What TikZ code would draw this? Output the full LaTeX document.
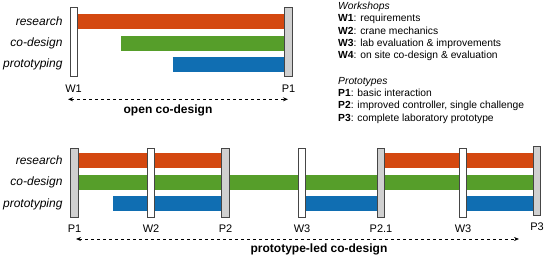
\documentclass[tikz,border=0pt]{standalone}
\usepackage{fontspec}
\setmainfont{Liberation Sans}
\usepackage{tikz}
\usetikzlibrary{arrows.meta,backgrounds}
\definecolor{resred}{RGB}{212,72,16}
\definecolor{cogreen}{RGB}{86,158,42}
\definecolor{protoblue}{RGB}{16,110,178}
\definecolor{protogray}{RGB}{208,208,208}
\definecolor{edgegray}{RGB}{70,70,70}
\tikzset{
  mile/.style={draw=edgegray,line width=0.8pt,fill=white,minimum width=7.5pt,
               minimum height=69pt,inner sep=0pt},
  wshop/.style={mile},
  proto/.style={mile,fill=protogray},
  bar/.style={line width=15pt},
  resbar/.style={bar,resred},
  cobar/.style={bar,cogreen},
  protobar/.style={bar,protoblue},
  rowlab/.style={anchor=east,font=\fontsize{12}{14}\selectfont\itshape},
  milab/.style={font=\fontsize{11}{13}\selectfont},
  span/.style={{Stealth[length=5pt,width=4pt]}-{Stealth[length=5pt,width=4pt]},dashed,line width=0.8pt},
  spanlab/.style={font=\fontsize{12}{14}\selectfont\bfseries},
  legend/.style={anchor=north west,align=left,inner sep=0pt,
                 font=\fontsize{10.3}{12.3}\selectfont},
}

\begin{document}
\begin{tikzpicture}[x=1pt,y=1pt]
  \path[use as bounding box] (0,0) rectangle (550,259);

  % open co-design
  \node[rowlab] (lres1) at (66,237.5) {research};
  \node[rowlab] (lco1) at (66,215.8) {co-design};
  \node[rowlab] (lpro1) at (66,194.2) {prototyping};
  \node[wshop] (w1) at (73.75,217.5) {};
  \node[proto] (p1) at (288.25,217.5) {};
  \node[milab] (lw1) at (73.5,170) {W1};
  \node[milab] (lp1) at (288.5,170) {P1};
  \coordinate (costart1) at (121,215.8);
  \coordinate (prstart1) at (172.7,194.2);
  \begin{pgfonlayer}{background}
    \draw[resbar] (lres1 -| w1.east) -- (lres1 -| p1.west);
    \draw[cobar] (costart1) -- (lco1 -| p1.west);
    \draw[protobar] (prstart1) -- (lpro1 -| p1.west);
  \end{pgfonlayer}
  \coordinate (os1) at (68,159.7);
  \coordinate (oe1) at (288,159.7);
  \draw[span] (os1) -- (oe1);
  \node[spanlab] (open) at (168,149) {open co-design};

  % prototype-led co-design
  \node[rowlab] (lres2) at (66,98.5) {research};
  \node[rowlab] (lco2) at (66,76.5) {co-design};
  \node[rowlab] (lpro2) at (66,55) {prototyping};
  \node[proto] (q1) at (74.25,76) {};
  \node[wshop] (w2) at (150.75,76) {};
  \node[proto] (q2) at (225.25,76) {};
  \node[wshop] (w3a) at (301.75,76) {};
  \node[proto] (q21) at (380.75,76) {};
  \node[wshop] (w3b) at (462.75,76) {};
  \node[proto] (q3) at (536.75,78.5) {};
  \node[milab] (lq1) at (74.5,30) {P1};
  \node[milab] (lw2) at (151,30) {W2};
  \node[milab] (lq2) at (225.5,30) {P2};
  \node[milab] (lw3a) at (302,30) {W3};
  \node[milab] (lq21) at (381,30) {P2.1};
  \node[milab] (lw3b) at (463,30) {W3};
  \node[milab] (lq3) at (537,32.3) {P3};
  \coordinate (prstart2) at (113,55);
  \begin{pgfonlayer}{background}
    \draw[resbar] (lres2 -| q1.east) -- (lres2 -| q2.west);
    \draw[resbar] (lres2 -| q21.east) -- (lres2 -| q3.west);
    \draw[cobar] (lco2 -| q1.east) -- (lco2 -| q3.west);
    \draw[protobar] (prstart2) -- (lpro2 -| q2.west);
    \draw[protobar] (lpro2 -| w3a.east) -- (lpro2 -| q21.west);
    \draw[protobar] (lpro2 -| w3b.east) -- (lpro2 -| q3.west);
  \end{pgfonlayer}
  \coordinate (os2) at (76,20);
  \coordinate (oe2) at (519,20);
  \draw[span] (os2) -- (oe2);
  \node[spanlab] (led) at (319,10) {prototype-led co-design};

  % legend
  \node[legend] (legw) at (338,257)
    {\textit{Workshops}\\
     \textbf{W1}: requirements\\
     \textbf{W2}: crane mechanics\\
     \textbf{W3}: lab evaluation \& improvements\\
     \textbf{W4}: on site co-design \& evaluation};
  \node[legend] (legp) at (338,182)
    {\textit{Prototypes}\\
     \textbf{P1}: basic interaction\\
     \textbf{P2}: improved controller, single challenge\\
     \textbf{P3}: complete laboratory prototype};
\end{tikzpicture}
\end{document}
